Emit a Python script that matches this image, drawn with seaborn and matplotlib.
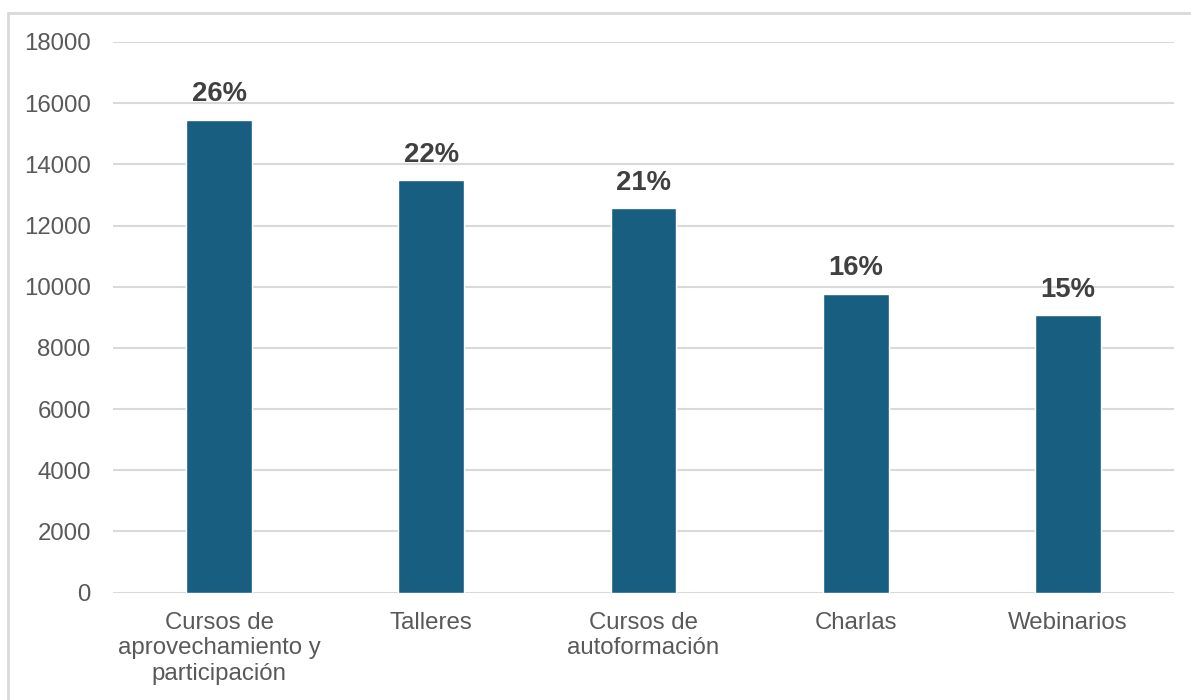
import matplotlib
matplotlib.use("Agg")
import matplotlib.pyplot as plt
from matplotlib.lines import Line2D
import seaborn as sns
import pandas as pd

categories = ["Cursos de\naprovechamiento y\nparticipación", "Talleres",
              "Cursos de\nautoformación", "Charlas", "Webinarios"]
values = [15450, 13480, 12570, 9770, 9070]
shares = ["26%", "22%", "21%", "16%", "15%"]
yticks = [0, 2000, 4000, 6000, 8000, 10000, 12000, 14000, 16000, 18000]

sns.set_theme(style="white")
plt.rcParams["font.family"] = ["Liberation Sans", "DejaVu Sans"]

df = pd.DataFrame({"categoria": categories, "valor": values})

W, H = 1191, 700
fig = plt.figure(figsize=(W / 100, H / 100), dpi=100)
ax = fig.add_axes([113 / W, 1 - 592.5 / H, (1174 - 113) / W, (592.5 - 42) / H])

sns.barplot(data=df, x="categoria", y="valor", color="#175E81", width=0.31,
            saturation=1, ax=ax, zorder=3)

ax.set_ylim(0, 18000)
ax.set_yticks(yticks)
ax.set_yticklabels([str(t) for t in yticks])
ax.yaxis.grid(True, color="#d9d9d9", linewidth=1.5, zorder=0)
ax.set_axisbelow(True)
ax.set_xlabel("")
ax.set_ylabel("")
for s in ax.spines.values():
    s.set_visible(False)
ax.tick_params(axis="both", length=0, labelsize=17.3, labelcolor="#595959")
ax.tick_params(axis="y", pad=16)
ax.tick_params(axis="x", pad=14)
for lbl in ax.get_xticklabels():
    lbl.set_linespacing(1.2)

for patch, txt in zip(ax.patches, shares):
    ax.annotate(txt, (patch.get_x() + patch.get_width() / 2, patch.get_height()),
                xytext=(0, 9), textcoords="offset points", ha="center", va="bottom",
                fontsize=19.8, fontweight="bold", color="#404040")

# chart frame: top and left edges
fig.add_artist(Line2D([8 / W, 1], [1 - 13 / H, 1 - 13 / H], transform=fig.transFigure,
                      color="#d9d9d9", linewidth=2))
fig.add_artist(Line2D([8 / W, 8 / W], [0, 1 - 13 / H], transform=fig.transFigure,
                      color="#d9d9d9", linewidth=2))

fig.savefig("out.png", dpi=100, facecolor="white")
